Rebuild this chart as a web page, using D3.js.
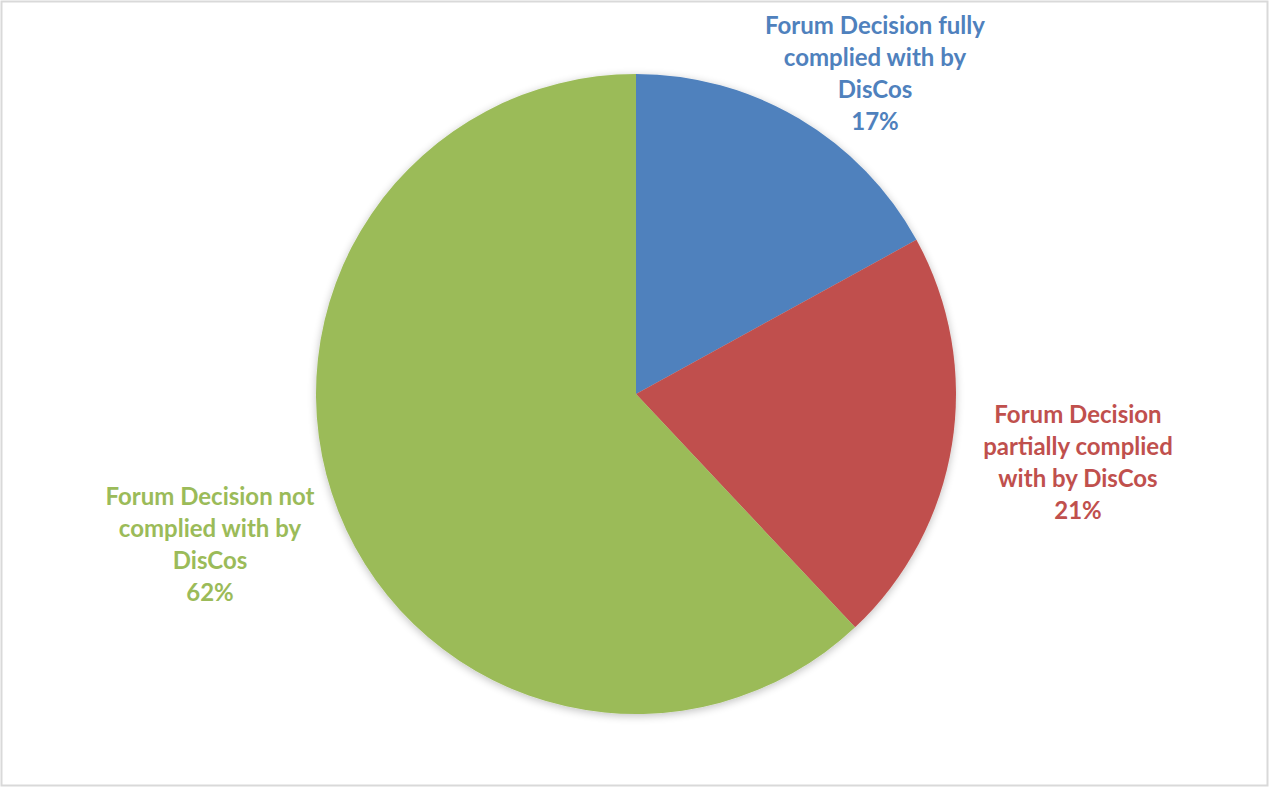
<!DOCTYPE html>
<html>
<head>
<meta charset="utf-8">
<script src="https://cdn.jsdelivr.net/npm/d3@7"></script>
<style>
  body { margin: 0; background: #fff; }
  svg { display: block; }
</style>
</head>
<body>
<div id="plot"></div>
<script>
// slice data, clockwise from 12 o'clock
const categories = [
  "Forum Decision fully complied with by DisCos",
  "Forum Decision partially complied with by DisCos",
  "Forum Decision not complied with by DisCos"
]
const values = [17, 21, 62]
const pctLabels = ["17%", "21%", "62%"]
// how each label is broken into lines
const labelLines = [
  ["Forum Decision fully", "complied with by", "DisCos"],
  ["Forum Decision", "partially complied", "with by DisCos"],
  ["Forum Decision not", "complied with by", "DisCos"]
]
const colors = ["#4f81bd", "#c0504d", "#9bbb59"]

const W = 1269, H = 787
const cx = 636, cy = 394, r = 320

let svg = d3.select("#plot").append("svg")
  .attr("width", W).attr("height", H)

// chart frame
svg.append("rect")
  .attr("x", 1.5).attr("y", 1.5)
  .attr("width", W - 3).attr("height", H - 3)
  .attr("fill", "#fff").attr("stroke", "#d9d9d9").attr("stroke-width", 2)

// soft shadow round the pie
let defs = svg.append("defs")
let f = defs.append("filter").attr("id", "shadow")
  .attr("x", "-10%").attr("y", "-10%").attr("width", "120%").attr("height", "120%")
f.append("feGaussianBlur").attr("in", "SourceAlpha").attr("stdDeviation", 4)
f.append("feOffset").attr("dx", 0).attr("dy", 2).attr("result", "b")
f.append("feComponentTransfer").append("feFuncA").attr("type", "linear").attr("slope", 0.25)
let m = f.append("feMerge")
m.append("feMergeNode")
m.append("feMergeNode").attr("in", "SourceGraphic")

let pie = d3.pie().sort(null).value(d => d)
let arc = d3.arc().innerRadius(0).outerRadius(r)

let g = svg.append("g").attr("transform", `translate(${cx},${cy})`)
  .attr("filter", "url(#shadow)")

g.selectAll("path")
  .data(pie(values))
  .enter().append("path")
  .attr("d", arc)
  .attr("fill", (d, i) => colors[i])

// label anchors (centre x, first baseline)
const labelPos = [[875, 34], [1078, 423], [210, 505]]
const lineH = 32

let labels = svg.append("g")
  .attr("font-family", "Lato, 'Open Sans', sans-serif")
  .attr("font-weight", "bold")
  .attr("font-size", 24)
  .attr("text-anchor", "middle")

labelLines.forEach(function(lines, i) {
  let t = labels.append("text")
    .attr("x", labelPos[i][0]).attr("y", labelPos[i][1])
    .attr("fill", colors[i])
  lines.concat([pctLabels[i]]).forEach(function(s, j) {
    t.append("tspan").attr("x", labelPos[i][0]).attr("dy", j == 0 ? 0 : lineH).text(s)
  })
})
</script>
</body>
</html>
